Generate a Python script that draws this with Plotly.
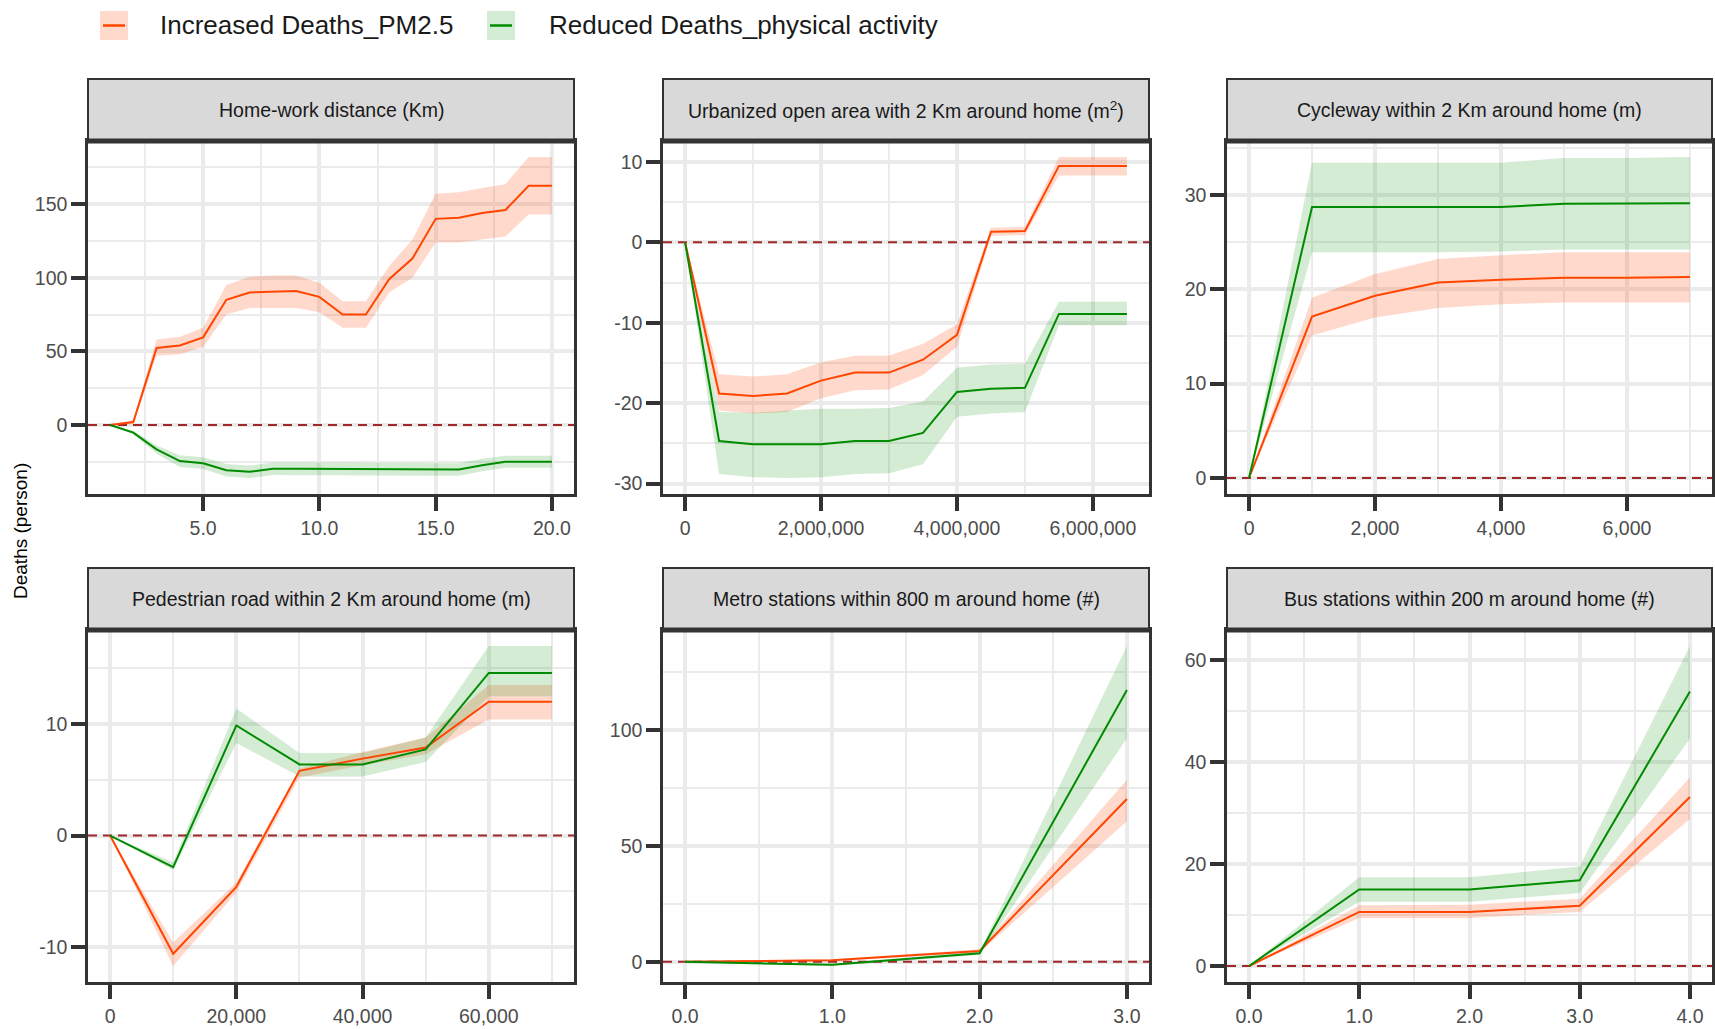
import plotly.graph_objects as go

# ---------------------------------------------------------------- data
TITLES = [
    "Home-work distance (Km)",
    "Urbanized open area with 2 Km around home (m<sup>2</sup>)",
    "Cycleway within 2 Km around home (m)",
    "Pedestrian road within 2 Km around home (m)",
    "Metro stations within 800 m around home (#)",
    "Bus stations within 200 m around home (#)",
]
SERIES_NAMES = ["Increased Deaths_PM2.5", "Reduced Deaths_physical activity"]

# Home-work distance (Km)
dist_x = [1, 2, 3, 4, 5, 6, 7, 8, 9, 10, 11, 12, 13, 14, 15, 16, 17, 18, 19, 20]
dist_pm = [0, 2, 52.3, 54, 59.5, 85, 90, 90.5, 91, 87, 75, 75, 99, 113, 140, 140.7, 144, 146, 162.5, 162.5]
dist_pm_lo = [0, 0.5, 47, 48, 53, 75, 79.5, 79.5, 79.5, 76.6, 66, 66, 90, 100, 124, 124, 126, 128, 143, 143]
dist_pm_hi = [0, 3.5, 58, 60, 66, 95, 100.7, 101.6, 101.6, 96.6, 84, 84, 108, 126, 157, 158, 161, 163.6, 182, 182]
dist_pa = [0, -5.2, -16.6, -24.5, -26.0, -30.7, -31.8, -29.8, -29.8, -29.8, -29.8, -30.2, -30.2, -30.2, -30.2, -30.2, -27.3, -25.0, -25.0, -25.0]
dist_pa_lo = [0, -6.5, -19.5, -28.5, -30.0, -35.0, -36.0, -34.0, -34.0, -34.0, -34.0, -34.5, -34.5, -34.5, -34.5, -34.5, -31.5, -29.0, -29.0, -29.0]
dist_pa_hi = [0, -4.0, -14.0, -20.5, -22.0, -26.5, -27.5, -25.5, -25.5, -25.5, -25.5, -26.0, -26.0, -26.0, -26.0, -26.0, -23.0, -21.0, -21.0, -21.0]

# Urbanized open area (m2)
open_x = [0, 500000, 1000000, 1500000, 2000000, 2500000, 3000000, 3500000, 4000000, 4500000, 5000000, 5500000, 6000000, 6500000]
open_pm = [0, -18.8, -19.1, -18.8, -17.2, -16.2, -16.2, -14.6, -11.5, 1.3, 1.4, 9.5, 9.5, 9.5]
open_pm_lo = [0, -20.9, -21.3, -21.1, -19.4, -18.4, -18.3, -16.5, -13.0, 0.8, 0.9, 8.3, 8.3, 8.3]
open_pm_hi = [0, -16.4, -16.7, -16.4, -14.9, -14.1, -14.1, -12.6, -10.2, 1.8, 1.9, 10.6, 10.6, 10.6]
open_pa = [0, -24.7, -25.1, -25.1, -25.1, -24.7, -24.7, -23.7, -18.6, -18.2, -18.1, -8.9, -8.9, -8.9]
open_pa_lo = [0, -28.8, -29.2, -29.3, -29.2, -28.8, -28.7, -27.6, -21.7, -21.3, -21.1, -10.3, -10.3, -10.3]
open_pa_hi = [0, -21.1, -21.2, -20.9, -20.7, -20.7, -20.6, -19.8, -15.6, -15.2, -15.1, -7.4, -7.4, -7.4]

# Cycleway (m)
cyc_x = [0, 1000, 2000, 3000, 4000, 5000, 6000, 7000]
cyc_pm = [0, 17.1, 19.3, 20.7, 21.0, 21.2, 21.2, 21.3]
cyc_pm_lo = [0, 15.1, 17.0, 18.0, 18.4, 18.6, 18.6, 18.6]
cyc_pm_hi = [0, 19.1, 21.6, 23.2, 23.6, 23.9, 23.9, 23.9]
cyc_pa = [0, 28.7, 28.7, 28.7, 28.7, 29.05, 29.05, 29.1]
cyc_pa_lo = [0, 23.9, 23.9, 23.9, 24.0, 24.2, 24.2, 24.2]
cyc_pa_hi = [0, 33.4, 33.4, 33.4, 33.4, 33.9, 33.9, 34.0]

# Pedestrian road (m)
ped_x = [0, 10000, 20000, 30000, 40000, 50000, 60000, 70000]
ped_pm = [0, -10.6, -4.6, 5.8, 6.9, 7.9, 12.0, 12.0]
ped_pm_lo = [0, -11.7, -5.1, 5.2, 6.3, 7.3, 10.4, 10.4]
ped_pm_hi = [0, -9.6, -4.2, 6.0, 7.5, 8.8, 13.5, 13.5]
ped_pa = [0, -2.84, 9.88, 6.38, 6.38, 7.72, 14.58, 14.58]
ped_pa_lo = [0, -3.1, 8.3, 5.3, 5.3, 6.6, 12.5, 12.5]
ped_pa_hi = [0, -2.4, 11.4, 7.4, 7.4, 8.8, 17.0, 17.0]

# Metro stations (#)
metro_x = [0, 1, 2, 3]
metro_pm = [0, 0.7, 4.7, 70.2]
metro_pm_lo = [0, 0.3, 4.0, 60.6]
metro_pm_hi = [0, 1.1, 5.4, 78.5]
metro_pa = [0, -1.3, 3.7, 117.2]
metro_pa_lo = [0, -1.8, 2.9, 96.4]
metro_pa_hi = [0, -0.8, 4.5, 136.2]

# Bus stations (#)
bus_x = [0, 1, 2, 3, 4]
bus_pm = [0, 10.6, 10.6, 11.8, 33.1]
bus_pm_lo = [0, 9.4, 9.4, 10.6, 28.8]
bus_pm_hi = [0, 11.9, 12.0, 13.2, 37.0]
bus_pa = [0, 15.0, 15.0, 16.8, 53.8]
bus_pa_lo = [0, 12.6, 12.6, 14.3, 44.6]
bus_pa_hi = [0, 17.4, 17.4, 19.5, 62.7]

# axis breaks and label formats
X_TICKS = [[5, 10, 15, 20], [0, 2000000, 4000000, 6000000], [0, 2000, 4000, 6000],
           [0, 20000, 40000, 60000], [0, 1, 2, 3], [0, 1, 2, 3, 4]]
X_FMT = ["{:.1f}", "{:,.0f}", "{:,.0f}", "{:,.0f}", "{:.1f}", "{:.1f}"]
X_MINOR = [[2.5, 7.5, 12.5, 17.5], [1000000, 3000000, 5000000], [1000, 3000, 5000, 7000],
           [10000, 30000, 50000, 70000], [0.5, 1.5, 2.5], [0.5, 1.5, 2.5, 3.5]]
Y_TICKS = [[0, 50, 100, 150], [-30, -20, -10, 0, 10], [0, 10, 20, 30],
           [-10, 0, 10], [0, 50, 100], [0, 20, 40, 60]]
Y_MINOR = [[-25, 25, 75, 125, 175], [-25, -15, -5, 5], [5, 15, 25, 35],
           [-5, 5, 15], [25, 75, 125], [10, 30, 50]]

PANELS = [
    (dist_x, dist_pm, dist_pm_lo, dist_pm_hi, dist_pa, dist_pa_lo, dist_pa_hi),
    (open_x, open_pm, open_pm_lo, open_pm_hi, open_pa, open_pa_lo, open_pa_hi),
    (cyc_x, cyc_pm, cyc_pm_lo, cyc_pm_hi, cyc_pa, cyc_pa_lo, cyc_pa_hi),
    (ped_x, ped_pm, ped_pm_lo, ped_pm_hi, ped_pa, ped_pa_lo, ped_pa_hi),
    (metro_x, metro_pm, metro_pm_lo, metro_pm_hi, metro_pa, metro_pa_lo, metro_pa_hi),
    (bus_x, bus_pm, bus_pm_lo, bus_pm_hi, bus_pa, bus_pa_lo, bus_pa_hi),
]

# ---------------------------------------------------------------- style
W, H = 1715, 1029
ML, MR, MT, MB = 88, 3, 79, 47
PW, PH = W - ML - MR, H - MT - MB

FONT = "Liberation Sans, Arial, Helvetica, sans-serif"
RED, GREEN = "#ff4500", "#008b00"
RED_FILL, GREEN_FILL = "rgba(255,69,0,0.2)", "rgba(0,139,0,0.17)"
DARK = "#333333"
GRID = "#ebebeb"
STRIP_FILL = "#d9d9d9"
ZERO_COLOR = "#a0282a"

COLS_PX = [(88, 574), (663, 1149), (1227, 1712)]
ROWS_PX = [(141, 494), (630, 982)]
STRIP_H = 62


def px_x(px):
    return (px - ML) / PW


def px_y(py):
    return 1 - (py - MT) / PH


def padded(lo, hi, frac=0.05):
    span = hi - lo
    return [lo - frac * span, hi + frac * span]


fig = go.Figure()
shapes, annotations = [], []

for i, (x, pm, pm_lo, pm_hi, pa, pa_lo, pa_hi) in enumerate(PANELS):
    r, c = divmod(i, 3)
    sfx = "" if i == 0 else str(i + 1)
    xa, ya = "x" + sfx, "y" + sfx

    x_range = padded(min(x), max(x))
    ylo = min(min(pm_lo), min(pa_lo), min(pm), min(pa))
    yhi = max(max(pm_hi), max(pa_hi), max(pm), max(pa))
    y_range = padded(ylo, yhi)

    # ribbons
    for lo, hi, fc in ((pm_lo, pm_hi, RED_FILL), (pa_lo, pa_hi, GREEN_FILL)):
        fig.add_trace(go.Scatter(
            x=list(x) + list(x)[::-1], y=list(hi) + list(lo)[::-1],
            fill="toself", fillcolor=fc, mode="lines", line=dict(width=0),
            hoverinfo="skip", showlegend=False, xaxis=xa, yaxis=ya))
    # dashed reference line at zero across the whole panel
    fig.add_trace(go.Scatter(
        x=x_range, y=[0, 0], mode="lines",
        line=dict(color=ZERO_COLOR, width=2, dash="9px,6px"),
        hoverinfo="skip", showlegend=False, xaxis=xa, yaxis=ya, cliponaxis=True))
    # lines
    for y, col, name in ((pm, RED, SERIES_NAMES[0]), (pa, GREEN, SERIES_NAMES[1])):
        fig.add_trace(go.Scatter(
            x=x, y=y, mode="lines", line=dict(color=col, width=2),
            name=name, showlegend=False, xaxis=xa, yaxis=ya))

    x0p, x1p = COLS_PX[c]
    y0p, y1p = ROWS_PX[r]

    common = dict(
        showline=True, mirror=True, linecolor=DARK, linewidth=2.5,
        ticks="outside", ticklen=14, tickwidth=4, tickcolor=DARK,
        tickfont=dict(family=FONT, size=19.5, color="#4d4d4d"),
        showgrid=True, gridcolor=GRID, gridwidth=3.5, zeroline=False,
        automargin=False,
    )
    fig.layout["xaxis" + sfx] = dict(
        common, domain=[px_x(x0p), px_x(x1p)], anchor=ya,
        range=x_range, ticklabelstandoff=1,
        tickvals=X_TICKS[i], ticktext=[X_FMT[i].format(v) for v in X_TICKS[i]],
        minor=dict(tickvals=X_MINOR[i], showgrid=True, gridcolor=GRID, gridwidth=2, ticklen=0),
    )
    fig.layout["yaxis" + sfx] = dict(
        common, domain=[px_y(y1p), px_y(y0p)], anchor=xa,
        range=y_range, ticklabelstandoff=0,
        tickvals=Y_TICKS[i], ticktext=[str(v) for v in Y_TICKS[i]],
        minor=dict(tickvals=Y_MINOR[i], showgrid=True, gridcolor=GRID, gridwidth=2, ticklen=0),
    )

    # facet strip
    st, sb = y0p - STRIP_H, y0p
    shapes.append(dict(type="rect", xref="paper", yref="paper",
                       x0=px_x(x0p), x1=px_x(x1p), y0=px_y(sb), y1=px_y(st),
                       fillcolor=STRIP_FILL, line=dict(color=DARK, width=2), layer="above"))
    shapes.append(dict(type="line", xref="paper", yref="paper",
                       x0=px_x(x0p), x1=px_x(x1p), y0=px_y(sb), y1=px_y(sb),
                       line=dict(color=DARK, width=5), layer="above"))
    annotations.append(dict(text=TITLES[i], xref="paper", yref="paper",
                            x=px_x((x0p + x1p) / 2), y=px_y((st + sb) / 2),
                            xanchor="center", yanchor="middle", showarrow=False,
                            font=dict(family=FONT, size=19.5, color="#1a1a1a")))

# shared y title
annotations.append(dict(text="Deaths (person)", xref="paper", yref="paper",
                        x=px_x(20), y=px_y(531), textangle=-90,
                        xanchor="center", yanchor="middle", showarrow=False,
                        font=dict(family=FONT, size=19, color="#000000")))

# legend keys and labels
legend_items = [
    (SERIES_NAMES[0], RED, RED_FILL, 100, 158),
    (SERIES_NAMES[1], GREEN, GREEN_FILL, 487, 547),
]
for name, col, fc, kx, tx in legend_items:
    shapes.append(dict(type="rect", xref="paper", yref="paper",
                       x0=px_x(kx), x1=px_x(kx + 28), y0=px_y(40), y1=px_y(11),
                       fillcolor=fc, line=dict(width=0), layer="above"))
    shapes.append(dict(type="line", xref="paper", yref="paper",
                       x0=px_x(kx + 3), x1=px_x(kx + 25), y0=px_y(25.5), y1=px_y(25.5),
                       line=dict(color=col, width=2.5), layer="above"))
    annotations.append(dict(text=name, xref="paper", yref="paper",
                            x=px_x(tx), y=px_y(25.5), xanchor="left", yanchor="middle",
                            showarrow=False,
                            font=dict(family=FONT, size=26, color="#1a1a1a")))

fig.update_layout(
    width=W, height=H,
    margin=dict(l=ML, r=MR, t=MT, b=MB),
    paper_bgcolor="white", plot_bgcolor="white",
    shapes=shapes, annotations=annotations,
    showlegend=False,
    font=dict(family=FONT),
)

fig.write_html("out.html")
